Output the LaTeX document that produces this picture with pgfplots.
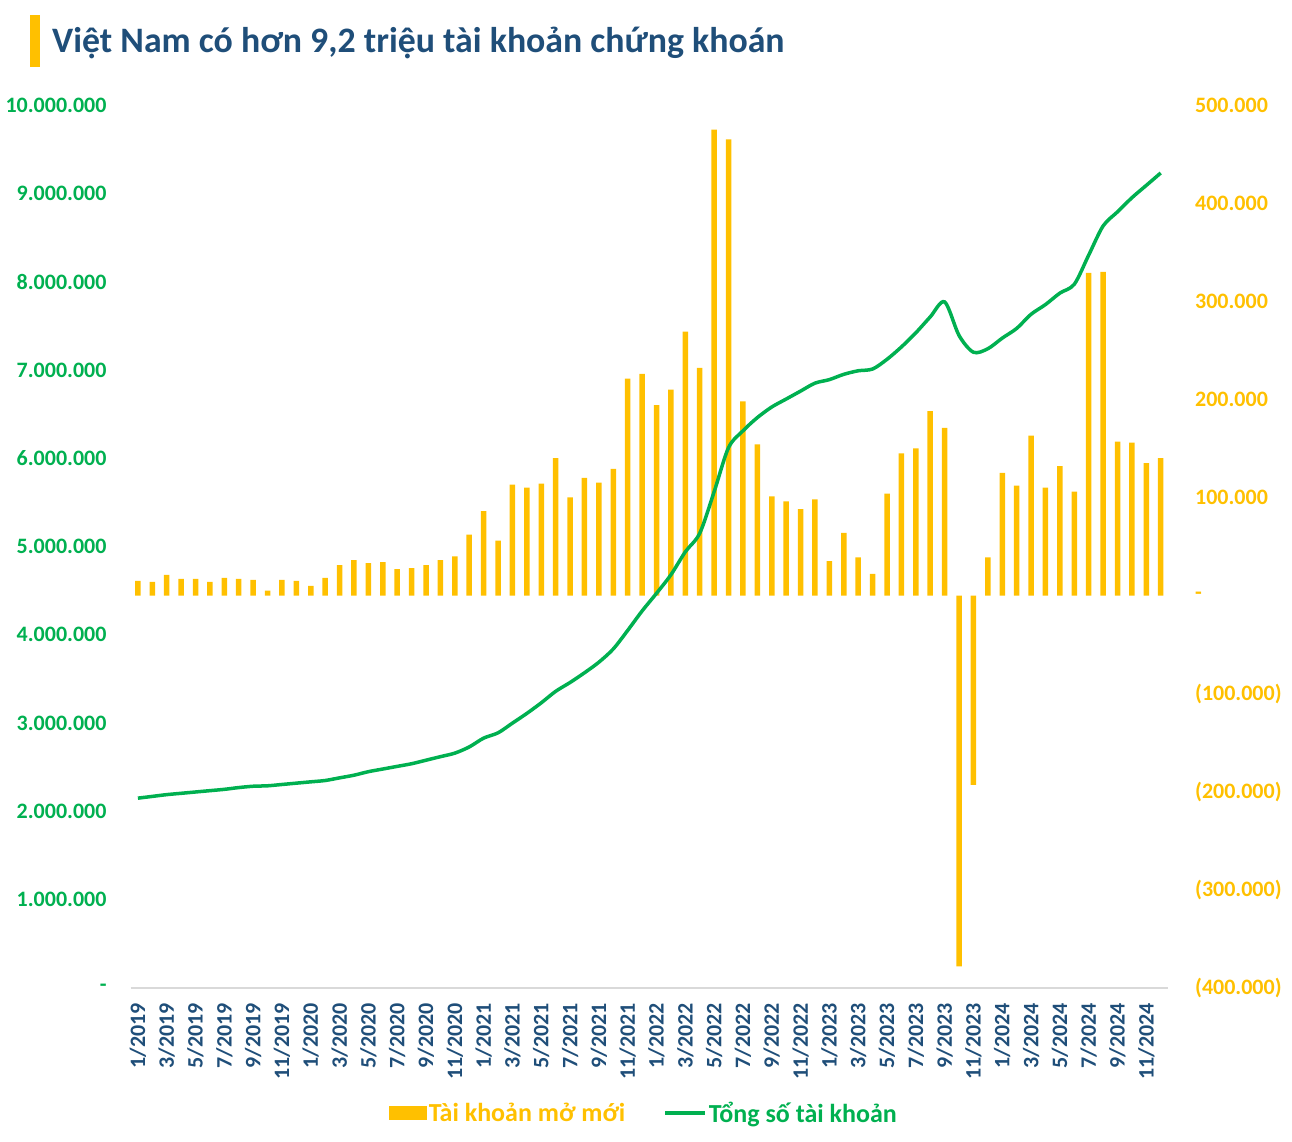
\documentclass[border=0pt]{standalone}
\usepackage{pgfplots}
\usepackage{pgfplotstable}
\pgfplotsset{compat=1.18}
\usepackage{fontspec}
\setmainfont{Carlito}
\definecolor{barc}{RGB}{255,192,0}
\definecolor{linec}{RGB}{0,176,80}
\definecolor{titc}{RGB}{31,78,121}
\definecolor{axc}{RGB}{217,217,217}

\pgfplotstableread{
x y
0 15000
1 14000
2 21000
3 17000
4 17000
5 14000
6 18000
7 17000
8 16000
9 5000
10 16000
11 15000
12 10000
13 18000
14 31000
15 36000
16 33000
17 34000
18 27000
19 28000
20 31000
21 36000
22 40000
23 62000
24 86000
25 56000
26 113000
27 110000
28 114000
29 140000
30 100000
31 120000
32 115000
33 129000
34 221000
35 226000
36 194000
37 210000
38 269000
39 232000
40 475000
41 465000
42 198000
43 154000
44 101000
45 96000
46 88000
47 98000
48 35000
49 64000
50 39000
51 22000
52 104000
53 145000
54 150000
55 188000
56 171000
57 -378000
58 -193000
59 39000
60 125000
61 112000
62 163000
63 110000
64 132000
65 106000
66 329000
67 330000
68 157000
69 156000
70 135000
71 140000
}\bars

\pgfplotstableread{
x y
0 2150000
1 2170000
2 2190000
3 2205000
4 2220000
5 2235000
6 2250000
7 2270000
8 2285000
9 2290000
10 2305000
11 2320000
12 2335000
13 2350000
14 2380000
15 2410000
16 2450000
17 2480000
18 2510000
19 2540000
20 2580000
21 2620000
22 2660000
23 2730000
24 2830000
25 2890000
26 3000000
27 3110000
28 3230000
29 3360000
30 3460000
31 3570000
32 3690000
33 3840000
34 4050000
35 4270000
36 4470000
37 4680000
38 4940000
39 5150000
40 5620000
41 6120000
42 6310000
43 6460000
44 6580000
45 6670000
46 6760000
47 6850000
48 6890000
49 6950000
50 6990000
51 7010000
52 7120000
53 7260000
54 7420000
55 7600000
56 7770000
57 7390000
58 7200000
59 7240000
60 7360000
61 7470000
62 7630000
63 7740000
64 7870000
65 7970000
66 8300000
67 8630000
68 8790000
69 8950000
70 9090000
71 9230000
}\total

\begin{document}
\begin{tikzpicture}
\useasboundingbox (0pt,0pt) rectangle (1292pt,-1142pt);
\fill[barc] (29.6pt,-15pt) rectangle (39.8pt,-66.7pt);
\node[anchor=west, text=titc, font=\fontsize{35.8}{42}\selectfont\bfseries, inner sep=0pt] at (52pt,-43pt) {Việt Nam có hơn 9,2 triệu tài khoản chứng khoán};

\begin{axis}[
  at={(130.7pt,-988pt)}, anchor=south west,
  width=1037.3pt, height=883pt, scale only axis,
  xmin=-0.5, xmax=71.5,
  ymin=-400000, ymax=500000,
  axis x line=none,
  axis y line*=right,
  y axis line style={draw=none},
  ytick={-400000,-300000,-200000,-100000,0,100000,200000,300000,400000,500000},
  yticklabels={(400.000),(300.000),(200.000),(100.000),-,100.000,200.000,300.000,400.000,500.000},
  major tick length=0pt,
  scaled y ticks=false,
  yticklabel style={anchor=west, text=barc, font=\fontsize{22}{26}\selectfont\bfseries, inner sep=0pt, xshift=27pt},
]
\addplot[ybar, bar width=5.5pt, fill=barc, draw=none] table[x=x,y=y] {\bars};
\end{axis}

\begin{axis}[
  at={(130.7pt,-988pt)}, anchor=south west,
  width=1037.3pt, height=883pt, scale only axis,
  xmin=-0.5, xmax=71.5,
  ymin=0, ymax=10000000,
  axis x line*=bottom,
  axis y line*=left,
  y axis line style={draw=none},
  x axis line style={draw=axc, line width=1.5pt, -},
  xtick={0,2,...,70},
  xticklabels={1/2019,3/2019,5/2019,7/2019,9/2019,11/2019,1/2020,3/2020,5/2020,7/2020,9/2020,11/2020,1/2021,3/2021,5/2021,7/2021,9/2021,11/2021,1/2022,3/2022,5/2022,7/2022,9/2022,11/2022,1/2023,3/2023,5/2023,7/2023,9/2023,11/2023,1/2024,3/2024,5/2024,7/2024,9/2024,11/2024},
  xticklabel style={yshift=-15pt, rotate=90, anchor=east, text=titc, font=\fontsize{22}{26}\selectfont\bfseries, inner sep=0pt},
  ytick={0,1000000,2000000,3000000,4000000,5000000,6000000,7000000,8000000,9000000,10000000},
  yticklabels={-,1.000.000,2.000.000,3.000.000,4.000.000,5.000.000,6.000.000,7.000.000,8.000.000,9.000.000,10.000.000},
  scaled y ticks=false,
  yticklabel style={anchor=east, text=linec, font=\fontsize{22}{26}\selectfont\bfseries, inner sep=0pt, xshift=-24pt},
  major tick length=0pt,
  legend style={at={(0.495,-0.1416)}, anchor=center, draw=none, fill=none, legend columns=2,
    font=\fontsize{26}{30}\selectfont\bfseries,
    /tikz/every even column/.append style={column sep=36pt}},
]
\addlegendimage{legend image code/.code={\fill[barc] (0pt,-6.5pt) rectangle (37pt,6.5pt);}}
\addlegendentry{\textcolor{barc}{Tài khoản mở mới}}
\addplot[linec, line width=3.5pt, smooth, legend image code/.code={\draw[linec, line width=3.5pt] (0pt,0pt) -- (40pt,0pt);}] table[x=x,y=y] {\total};
\addlegendentry{\textcolor{linec}{Tổng số tài khoản}}
\end{axis}
\end{tikzpicture}
\end{document}
